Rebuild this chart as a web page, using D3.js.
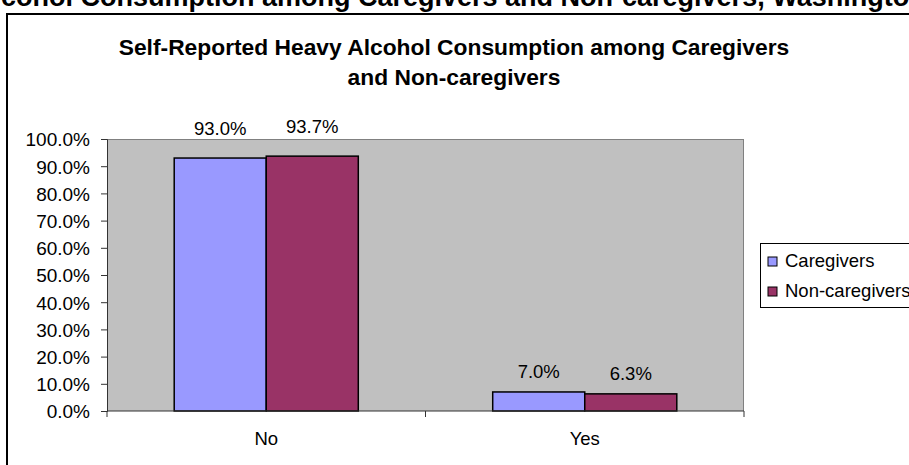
<!doctype html>
<html>
<head>
<meta charset="UTF-8">
<script src="https://d3js.org/d3.v7.min.js"></script>
<style>
body { margin: 0; background: #fff; }
svg text { font-family: Arial, "Liberation Sans", sans-serif; fill: #000; }
</style>
</head>
<body>
<script>
// chart data
var categories = ["No", "Yes"];
var series = ["Caregivers", "Non-caregivers"];
var caregivers = [0.930, 0.070];
var nonCaregivers = [0.937, 0.063];
var yTicks = [0, 0.1, 0.2, 0.3, 0.4, 0.5, 0.6, 0.7, 0.8, 0.9, 1.0];
var colors = ["#9999FF", "#993366"];

var w = 909, h = 465;
var plot = {left: 107, right: 744, top: 139, bottom: 411};
var labelGap = [23, 14]; // gap between bar top and value label, per category

var svg = d3.select("body").append("svg")
    .attr("width", w)
    .attr("height", h);

// page heading, cut off by the top of the picture
var head = svg.append("text")
    .attr("y", 6)
    .style("font-size", "27px")
    .style("font-weight", "bold")
    .text("Heavy Alcohol Consumption among Caregivers and Non-caregivers, Washington State");
var full = head.text();
var off = head.node().getSubStringLength(0, full.indexOf("cohol"));
head.attr("x", -off + 1);

// chart frame
svg.append("rect")
    .attr("x", 7).attr("y", 14)
    .attr("width", 1000).attr("height", 600)
    .attr("fill", "#fff")
    .attr("stroke", "#000")
    .attr("stroke-width", 2);

// title
var title = svg.append("text")
    .attr("text-anchor", "middle")
    .style("font-size", "22.8px")
    .style("font-weight", "bold");
title.append("tspan").attr("x", 454).attr("y", 55)
    .text("Self-Reported Heavy Alcohol Consumption among Caregivers");
title.append("tspan").attr("x", 454).attr("y", 85)
    .text("and Non-caregivers");

// scales
var y = d3.scaleLinear().domain([0, 1]).range([plot.bottom, plot.top]);
var x0 = d3.scaleBand().domain(categories)
    .range([plot.left, plot.right])
    .paddingInner(0.422).paddingOuter(0.211);
var x1 = d3.scaleBand().domain(series).range([0, x0.bandwidth()]);
var xEdge = d3.scaleLinear().domain([0, categories.length]).range([plot.left, plot.right]);

// plot area
svg.append("rect")
    .attr("x", plot.left).attr("y", plot.top)
    .attr("width", plot.right - plot.left)
    .attr("height", plot.bottom - plot.top)
    .attr("fill", "#C0C0C0");
svg.append("line")
    .attr("x1", plot.left).attr("x2", plot.right)
    .attr("y1", plot.top + 0.5).attr("y2", plot.top + 0.5)
    .attr("stroke", "#808080");
svg.append("line")
    .attr("x1", plot.right - 0.5).attr("x2", plot.right - 0.5)
    .attr("y1", plot.top).attr("y2", plot.bottom)
    .attr("stroke", "#808080");

// y axis
var yAxis = svg.append("g")
    .attr("transform", "translate(" + plot.left + ",0)")
    .call(d3.axisLeft(y).tickValues(yTicks).tickFormat(d3.format(".1%")).tickSize(6).tickPadding(11));
yAxis.selectAll("text").style("font-size", "19px").attr("dy", "0.36em");
yAxis.selectAll("line, path").attr("stroke", "#333");

// bars
var rows = categories.map(function(c, i) {
    return {cat: c, i: i, vals: [caregivers[i], nonCaregivers[i]]};
});
var groups = svg.selectAll(".grp")
    .data(rows)
    .enter().append("g")
    .attr("class", "grp")
    .attr("transform", function(d) { return "translate(" + x0(d.cat) + ",0)"; });

groups.selectAll("rect")
    .data(function(d) { return d.vals.map(function(v, j) { return {s: series[j], v: v, j: j}; }); })
    .enter().append("rect")
    .attr("x", function(d) { return x1(d.s); })
    .attr("y", function(d) { return y(d.v); })
    .attr("width", x1.bandwidth())
    .attr("height", function(d) { return y(0) - y(d.v); })
    .attr("fill", function(d) { return colors[d.j]; })
    .attr("stroke", "#000")
    .attr("stroke-width", 1.5);

groups.selectAll(".lbl")
    .data(function(d) { return d.vals.map(function(v, j) { return {s: series[j], v: v, i: d.i}; }); })
    .enter().append("text")
    .attr("class", "lbl")
    .attr("text-anchor", "middle")
    .attr("x", function(d) { return x1(d.s) + x1.bandwidth() / 2; })
    .attr("y", function(d) { return y(d.v) - labelGap[d.i]; })
    .style("font-size", "18.5px")
    .text(function(d) { return d3.format(".1%")(d.v); });

// x axis
svg.append("line")
    .attr("x1", plot.left).attr("x2", plot.right)
    .attr("y1", plot.bottom).attr("y2", plot.bottom)
    .attr("stroke", "#333");
svg.selectAll(".xtick")
    .data(d3.range(categories.length + 1))
    .enter().append("line")
    .attr("class", "xtick")
    .attr("x1", function(d) { return xEdge(d); })
    .attr("x2", function(d) { return xEdge(d); })
    .attr("y1", plot.bottom).attr("y2", plot.bottom + 6)
    .attr("stroke", "#333");
svg.selectAll(".xlbl")
    .data(categories)
    .enter().append("text")
    .attr("class", "xlbl")
    .attr("text-anchor", "middle")
    .attr("x", function(d) { return x0(d) + x0.bandwidth() / 2; })
    .attr("y", 445)
    .style("font-size", "18.5px")
    .text(function(d) { return d; });

// legend
var legend = svg.append("g").attr("transform", "translate(760,243)");
legend.append("rect")
    .attr("x", 0.5).attr("y", 0.5)
    .attr("width", 200).attr("height", 64)
    .attr("fill", "#fff")
    .attr("stroke", "#000");
var items = legend.selectAll(".item")
    .data(series)
    .enter().append("g")
    .attr("class", "item")
    .attr("transform", function(d, i) { return "translate(0," + (i * 30) + ")"; });
items.append("rect")
    .attr("x", 8).attr("y", 14)
    .attr("width", 9).attr("height", 9)
    .attr("fill", function(d, i) { return colors[i]; })
    .attr("stroke", "#000");
items.append("text")
    .attr("x", 25).attr("y", 24)
    .style("font-size", "18.5px")
    .text(function(d) { return d; });
</script>
</body>
</html>
